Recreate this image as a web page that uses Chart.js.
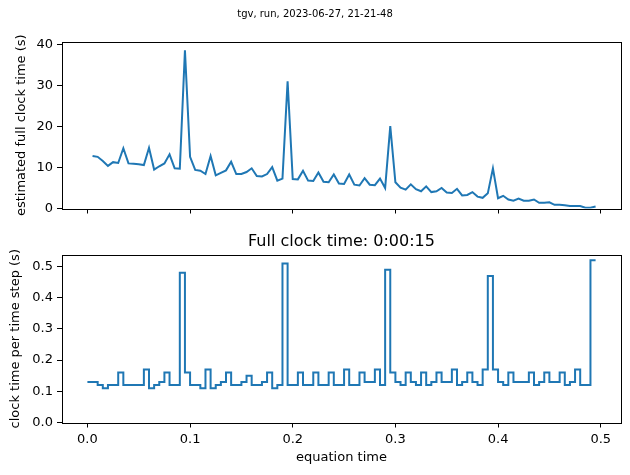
<!DOCTYPE html>
<html>
<head>
<meta charset="utf-8">
<title>tgv run</title>
<script src="https://cdn.jsdelivr.net/npm/chart.js@4/dist/chart.umd.min.js"></script>
<style>
  html, body { margin: 0; padding: 0; background: #fff; }
  #wrap { position: relative; width: 630px; height: 475px; font-family: "DejaVu Sans", sans-serif; }
  #wrap canvas { position: absolute; left: 0; top: 0; }
  .txt { position: absolute; color: #000; text-align: center; white-space: nowrap; line-height: 1; }
</style>
</head>
<body>
<div id="wrap">
  <canvas id="topChart" width="630" height="475"></canvas>
  <canvas id="bottomChart" width="630" height="475"></canvas>
  <div class="txt" style="left:0; width:630px; top:9px; font-size:10px;">tgv, run, 2023-06-27, 21-21-48</div>
  <div class="txt" style="left:62px; width:559px; top:233px; font-size:16px;">Full clock time: 0:00:15</div>
</div>
<script>
// equation time at the end of each step
const stepEnd = [
  0.005, 0.01, 0.015, 0.02, 0.025, 0.03, 0.035, 0.04, 0.045, 0.05,
  0.055, 0.06, 0.065, 0.07, 0.075, 0.08, 0.085, 0.09, 0.095, 0.1,
  0.105, 0.11, 0.115, 0.12, 0.125, 0.13, 0.135, 0.14, 0.145, 0.15,
  0.155, 0.16, 0.165, 0.17, 0.175, 0.18, 0.185, 0.19, 0.195, 0.2,
  0.205, 0.21, 0.215, 0.22, 0.225, 0.23, 0.235, 0.24, 0.245, 0.25,
  0.255, 0.26, 0.265, 0.27, 0.275, 0.28, 0.285, 0.29, 0.295, 0.3,
  0.305, 0.31, 0.315, 0.32, 0.325, 0.33, 0.335, 0.34, 0.345, 0.35,
  0.355, 0.36, 0.365, 0.37, 0.375, 0.38, 0.385, 0.39, 0.395, 0.4,
  0.405, 0.41, 0.415, 0.42, 0.425, 0.43, 0.435, 0.44, 0.445, 0.45,
  0.455, 0.46, 0.465, 0.47, 0.475, 0.48, 0.485, 0.49, 0.495
];

// estimated full clock time (s)
const estimated = [
  12.8, 12.6, 11.6, 10.4, 11.3, 11.1, 14.7, 11.0, 10.9, 10.8,
  10.6, 14.8, 9.5, 10.3, 11.0, 13.2, 9.8, 9.7, 38.6, 12.6,
  9.4, 9.2, 8.4, 12.8, 8.1, 8.7, 9.3, 11.4, 8.4, 8.4,
  8.9, 9.8, 7.9, 7.8, 8.4, 10.1, 6.8, 7.3, 31.0, 7.2,
  7.1, 9.2, 6.8, 6.7, 8.8, 6.5, 6.4, 8.3, 6.1, 6.0,
  8.3, 5.8, 5.6, 7.4, 5.8, 5.7, 7.3, 5.0, 20.1, 6.4,
  5.1, 4.6, 5.9, 4.7, 4.2, 5.4, 4.0, 4.2, 5.0, 3.9,
  3.8, 4.8, 3.2, 3.3, 4.0, 2.9, 2.6, 3.7, 9.8, 2.5,
  3.1, 2.2, 1.9, 2.4, 1.9, 1.9, 2.2, 1.4, 1.4, 1.5,
  0.9, 0.9, 0.8, 0.6, 0.6, 0.6, 0.2, 0.2, 0.5
];

// clock time per time step (s)
const stepTime = [
  0.13, 0.13, 0.12, 0.11, 0.12, 0.12, 0.16, 0.12, 0.12, 0.12,
  0.12, 0.17, 0.11, 0.12, 0.13, 0.16, 0.12, 0.12, 0.48, 0.16,
  0.12, 0.12, 0.11, 0.17, 0.11, 0.12, 0.13, 0.16, 0.12, 0.12,
  0.13, 0.15, 0.12, 0.12, 0.13, 0.16, 0.11, 0.12, 0.51, 0.12,
  0.12, 0.16, 0.12, 0.12, 0.16, 0.12, 0.12, 0.16, 0.12, 0.12,
  0.17, 0.12, 0.12, 0.16, 0.13, 0.13, 0.17, 0.12, 0.49, 0.16,
  0.13, 0.12, 0.16, 0.13, 0.12, 0.16, 0.12, 0.13, 0.16, 0.13,
  0.13, 0.17, 0.12, 0.13, 0.16, 0.13, 0.12, 0.17, 0.47, 0.17,
  0.13, 0.12, 0.16, 0.13, 0.13, 0.13, 0.16, 0.12, 0.13, 0.16,
  0.13, 0.13, 0.16, 0.12, 0.13, 0.17, 0.12, 0.12, 0.52
];

const xTicks = [0, 0.1, 0.2, 0.3, 0.4, 0.5];
const topYTicks = [0, 10, 20, 30, 40];
const bottomYTicks = [0, 0.1, 0.2, 0.3, 0.4, 0.5];

const blue = '#1f77b4';
Chart.defaults.font.family = '"DejaVu Sans", sans-serif';
Chart.defaults.color = '#000';

// matplotlib style box around the plot area
const frame = {
  id: 'frame',
  afterDraw(chart) {
    const { ctx, chartArea: a } = chart;
    ctx.save();
    ctx.strokeStyle = '#000';
    ctx.lineWidth = 1;
    ctx.strokeRect(Math.round(a.left) + 0.5, Math.round(a.top) + 0.5,
      Math.round(a.width), Math.round(a.height));
    ctx.restore();
  }
};

function fixedTicks(values) {
  return scale => { scale.ticks = values.map(v => ({ value: v })); };
}

function axisGrid() {
  return {
    display: true,
    drawOnChartArea: false,
    drawTicks: true,
    tickLength: 5,
    color: '#000',
    lineWidth: 1
  };
}

function makeOptions(o) {
  return {
    responsive: false,
    animation: false,
    events: [],
    layout: { padding: { left: 0, right: 9, top: o.padTop, bottom: 0 } },
    plugins: { legend: { display: false }, tooltip: { enabled: false } },
    scales: {
      x: {
        type: 'linear',
        min: -0.02475,
        max: 0.51975,
        afterBuildTicks: fixedTicks(xTicks),
        afterFit: s => { s.height = o.xHeight; },
        grid: axisGrid(),
        border: { display: false },
        ticks: {
          display: o.showX,
          padding: 4,
          maxRotation: 0,
          font: { size: 13 },
          callback: v => v.toFixed(1)
        },
        title: {
          display: o.showX,
          text: 'equation time',
          font: { size: 13 },
          padding: { top: 0, bottom: 10 }
        }
      },
      y: {
        type: 'linear',
        min: 0,
        max: o.yMax,
        afterBuildTicks: fixedTicks(o.yTicks),
        afterFit: s => { s.width = 62; },
        grid: axisGrid(),
        border: { display: false },
        ticks: {
          padding: 4,
          font: { size: 13 },
          callback: o.yFormat
        },
        title: {
          display: true,
          text: o.yTitle,
          font: { size: 13 },
          padding: { top: o.yTitlePad, bottom: 0 }
        }
      }
    }
  };
}

new Chart(document.getElementById('topChart'), {
  type: 'line',
  data: {
    datasets: [{
      data: stepEnd.map((t, i) => ({ x: t, y: estimated[i] })),
      borderColor: blue,
      borderWidth: 2,
      pointRadius: 0,
      tension: 0
    }]
  },
  options: makeOptions({
    padTop: 42,
    xHeight: 266.5,
    showX: false,
    yMax: 40.6,
    yTicks: topYTicks,
    yFormat: v => String(v),
    yTitle: 'estimated full clock time (s)',
    yTitlePad: 14
  }),
  plugins: [frame]
});

// step plot: each step holds its value up to its end time
const stepPoints = [{ x: 0, y: stepTime[0] }]
  .concat(stepEnd.map((t, i) => ({ x: t, y: stepTime[i] })));

new Chart(document.getElementById('bottomChart'), {
  type: 'line',
  data: {
    datasets: [{
      data: stepPoints,
      stepped: 'after',
      borderColor: blue,
      borderWidth: 2,
      pointRadius: 0
    }]
  },
  options: makeOptions({
    padTop: 255,
    xHeight: 52.5,
    showX: true,
    yMax: 0.537,
    yTicks: bottomYTicks,
    yFormat: v => v.toFixed(1),
    yTitle: 'clock time per time step (s)',
    yTitlePad: 8
  }),
  plugins: [frame]
});
</script>
</body>
</html>
